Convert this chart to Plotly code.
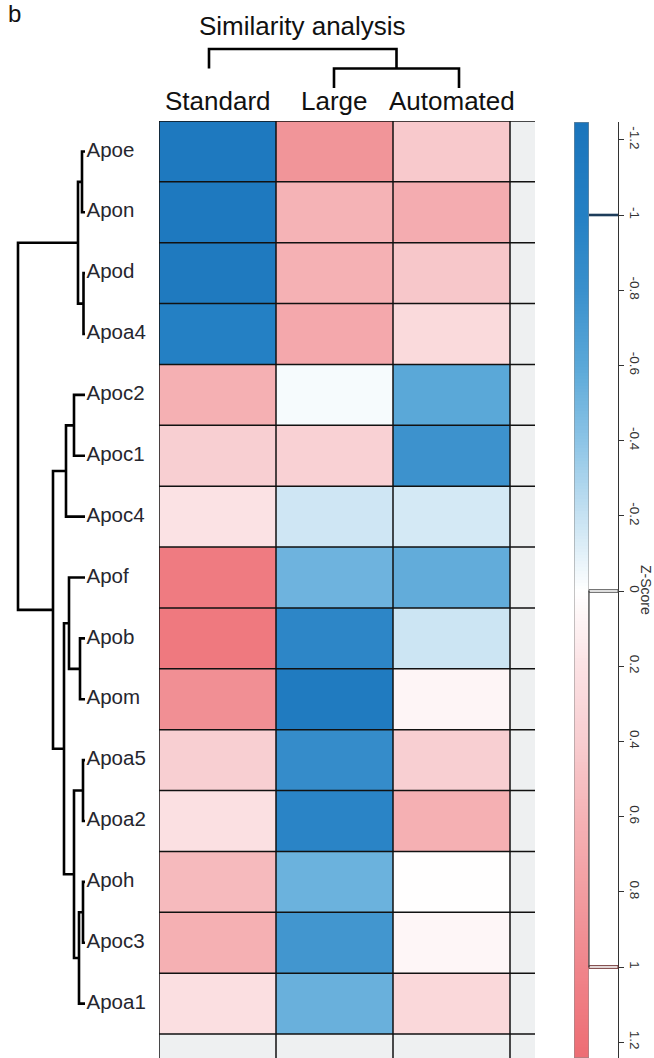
import numpy as np
import plotly.graph_objects as go

W, H = 654, 1058

# ---------------- data ----------------
genes = ["Apoe", "Apon", "Apod", "Apoa4", "Apoc2", "Apoc1", "Apoc4", "Apof",
         "Apob", "Apom", "Apoa5", "Apoa2", "Apoh", "Apoc3", "Apoa1"]
methods = ["Standard", "Large", "Automated"]
z_standard = [-1.15, -1.15, -1.13, -1.00, 0.63, 0.38, 0.20, 1.10, 1.12, 0.92, 0.38, 0.22, 0.55, 0.63, 0.23]
z_large = [0.87, 0.60, 0.62, 0.70, -0.03, 0.36, -0.17, -0.52, -0.92, -1.10, -0.85, -0.95, -0.53, -0.75, -0.54]
z_automated = [0.43, 0.66, 0.45, 0.28, -0.60, -0.78, -0.15, -0.57, -0.18, 0.07, 0.38, 0.63, 0.01, 0.06, 0.30]

# row dendrogram (leaves 0..14, merged nodes numbered from 15)
row_merge_left = [0, 2, 15, 4, 18, 8, 7, 10, 12, 23, 22, 21, 19, 17]
row_merge_right = [1, 3, 16, 5, 6, 9, 20, 11, 13, 14, 24, 25, 26, 27]
row_merge_height = [3, 1.5, 7, 11, 19, 5, 16, 2, 2, 6, 11, 21, 32, 67]

# column dendrogram (leaves 0..2, merged nodes from 3)
col_merge_left = [1, 0]
col_merge_right = [2, 3]
col_merge_height = [1, 2]
col_leaf_base = [1, 0, 0]

key_ticks = [-1.2, -1, -0.8, -0.6, -0.4, -0.2, 0, 0.2, 0.4, 0.6, 0.8, 1, 1.2]
key_tick_text = ["-1.2", "-1", "-0.8", "-0.6", "-0.4", "-0.2", "0", "0.2", "0.4", "0.6", "0.8", "1", "1.2"]
key_marks = [-1, 0, 1]
key_mark_colors = ["#1d3c5a", "#555555", "#6b2a2a"]

ZMIN, ZMAX = -1.25, 1.25
colorscale = [
    [0.00, "#1a74bb"], [0.10, "#2480c4"], [0.18, "#3a90cc"], [0.26, "#5aa8d8"],
    [0.34, "#8cc4e6"], [0.42, "#c6e2f2"], [0.50, "#ffffff"], [0.58, "#fbe2e4"],
    [0.66, "#f8cdd0"], [0.74, "#f5b3b6"], [0.82, "#f29da1"], [0.90, "#f0858b"],
    [1.00, "#ed6c73"],
]

FONT = "Arial, Liberation Sans, sans-serif"


def px_x(p):
    return p / W


def px_y(p):
    return 1 - p / H


# ---------------- layout geometry ----------------
hm_left, hm_right, hm_top = 159, 535, 121
col_w = 117.0
row_h = 60.87
n_rows, n_cols = len(genes), len(methods)
x_hi = n_cols - 0.5 + (hm_right - (hm_left + n_cols * col_w)) / col_w
y_hi = n_rows - 0.5 + (H - (hm_top + n_rows * row_h)) / row_h
leaf_px = 85

fig = go.Figure()

z = [[z_standard[i], z_large[i], z_automated[i]] for i in range(n_rows)]
fig.add_trace(go.Heatmap(
    z=z, x=list(range(n_cols)), y=list(range(n_rows)),
    colorscale=colorscale, zmin=ZMIN, zmax=ZMAX, showscale=False,
    xaxis="x", yaxis="y", hoverinfo="skip",
))


# ---------------- dendrograms ----------------
def dendro_lines(n_leaves, lefts, rights, heights, leaf_base=None):
    pos = {i: float(i) for i in range(n_leaves)}
    hgt = {i: (leaf_base[i] if leaf_base else 0.0) for i in range(n_leaves)}
    a, b = [], []
    for k, (l, r, h) in enumerate(zip(lefts, rights, heights)):
        node = n_leaves + k
        a += [hgt[l], h, h, hgt[r], None]
        b += [pos[l], pos[l], pos[r], pos[r], None]
        pos[node] = (pos[l] + pos[r]) / 2
        hgt[node] = h
    return a, b


rx, ry = dendro_lines(n_rows, row_merge_left, row_merge_right, row_merge_height)
fig.add_trace(go.Scatter(x=rx, y=ry, mode="lines", xaxis="x2", yaxis="y",
                         line=dict(color="black", width=2.6), hoverinfo="skip",
                         showlegend=False))
fig.add_trace(go.Scatter(x=[-1.5] * n_rows, y=list(range(n_rows)), mode="text",
                         text=genes, textposition="middle right",
                         textfont=dict(family=FONT, size=20.5, color="#26262e"),
                         xaxis="x2", yaxis="y", cliponaxis=False,
                         hoverinfo="skip", showlegend=False))

cb, cx = dendro_lines(n_cols, col_merge_left, col_merge_right, col_merge_height, col_leaf_base)
fig.add_trace(go.Scatter(x=cx, y=cb, mode="lines", xaxis="x4", yaxis="y4",
                         line=dict(color="black", width=2.6), hoverinfo="skip",
                         showlegend=False))

# ---------------- colour key ----------------
key_vals = np.linspace(ZMIN, ZMAX, 301)
fig.add_trace(go.Heatmap(
    z=[[v] for v in key_vals], x=[0], y=key_vals,
    colorscale=colorscale, zmin=ZMIN, zmax=ZMAX, showscale=False,
    xaxis="x3", yaxis="y3", hoverinfo="skip",
))

key_top_px, key_zero_px, key_px_per_unit = 122, 591, 376.0
key_lo = (key_top_px - key_zero_px) / key_px_per_unit
key_hi = (H - key_zero_px) / key_px_per_unit

# ---------------- axes ----------------
hidden = dict(visible=False, showgrid=False, zeroline=False)
fig.update_layout(
    width=W, height=H, margin=dict(l=0, r=0, t=0, b=0),
    paper_bgcolor="white", plot_bgcolor="rgba(0,0,0,0)", showlegend=False,
    xaxis=dict(domain=[px_x(hm_left), px_x(hm_right)], range=[-0.5, x_hi], anchor="y", **hidden),
    yaxis=dict(domain=[0, px_y(hm_top)], range=[y_hi, -0.5], anchor="x", **hidden),
    xaxis2=dict(domain=[0, px_x(hm_left)], range=[leaf_px, leaf_px - hm_left], anchor="y", **hidden),
    xaxis3=dict(domain=[px_x(574), px_x(589)], range=[-0.5, 0.5], anchor="y3", **hidden),
    yaxis3=dict(domain=[0, px_y(key_top_px)], range=[key_hi, key_lo], anchor="free",
                position=px_x(618), side="right", showline=True, linecolor="#333333",
                linewidth=1.3, ticks="outside", ticklen=5, tickcolor="#333333",
                tickvals=key_ticks, ticktext=key_tick_text, tickangle=90,
                tickfont=dict(family=FONT, size=13.5, color="#333333"),
                showgrid=False, zeroline=False),
    xaxis4=dict(domain=[0, 1], range=[(0 - 209) / 125, (W - 209) / 125], anchor="y4", **hidden),
    yaxis4=dict(domain=[px_y(100), px_y(30)], range=[-12 / 19.5, 58 / 19.5], anchor="x4", **hidden),
)

shapes = []
shapes.append(dict(type="rect", xref="x", yref="y", x0=-0.5, x1=x_hi, y0=-0.5, y1=y_hi,
                   fillcolor="#eef0f1", line=dict(width=0), layer="below"))
for k in range(n_rows + 1):
    shapes.append(dict(type="line", xref="x", yref="y", x0=-0.5, x1=x_hi, y0=k - 0.5, y1=k - 0.5,
                       line=dict(color="#111111", width=1.5)))
for k in range(n_cols + 1):
    shapes.append(dict(type="line", xref="x", yref="y", x0=k - 0.5, x1=k - 0.5, y0=-0.5, y1=y_hi,
                       line=dict(color="#111111", width=1.5)))
shapes.append(dict(type="rect", xref="x3", yref="y3", x0=-0.5, x1=0.5, y0=key_lo, y1=key_hi,
                   line=dict(color="#8a8a8a", width=1)))
d = 1.3 / key_px_per_unit
for m, c in zip(key_marks, key_mark_colors):
    if m == -1:
        shapes.append(dict(type="line", xref="paper", yref="y3", x0=px_x(589), x1=px_x(618),
                           y0=m, y1=m, line=dict(color=c, width=2.6)))
    else:
        shapes.append(dict(type="rect", xref="paper", yref="y3", x0=px_x(589), x1=px_x(618),
                           y0=m - d, y1=m + d, line=dict(color=c, width=1)))
shapes.append(dict(type="line", xref="paper", yref="y3", x0=px_x(589), x1=px_x(589),
                   y0=key_marks[1], y1=key_marks[2], line=dict(color="#444444", width=1.2)))
fig.update_layout(shapes=shapes)

ann = []
for j, m in enumerate(methods):
    ann.append(dict(text=m, xref="x", yref="paper", x=j, y=px_y(101), xanchor="center",
                    yanchor="middle", showarrow=False,
                    font=dict(family=FONT, size=26, color="#111111")))
ann.append(dict(text="Similarity analysis", xref="paper", yref="paper", x=px_x(302), y=px_y(26),
                xanchor="center", yanchor="middle", showarrow=False,
                font=dict(family=FONT, size=26, color="#111111")))
ann.append(dict(text="b", xref="paper", yref="paper", x=px_x(6), y=px_y(13),
                xanchor="left", yanchor="middle", showarrow=False,
                font=dict(family=FONT, size=24, color="#111111")))
ann.append(dict(text="Z-Score", xref="paper", yref="paper", x=px_x(646), y=px_y(590),
                xanchor="center", yanchor="middle", textangle=90, showarrow=False,
                font=dict(family=FONT, size=14, color="#333333")))
fig.update_layout(annotations=ann)

fig.write_html("out.html")
